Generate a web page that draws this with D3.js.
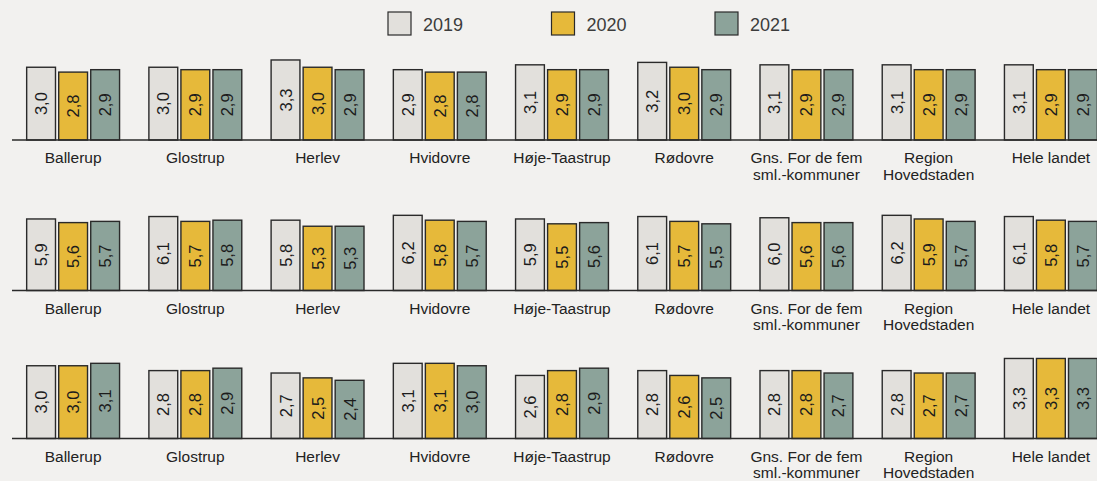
<!DOCTYPE html>
<html>
<head>
<meta charset="utf-8">
<script src="https://cdn.jsdelivr.net/npm/d3@7"></script>
<style>
  body { margin: 0; background: #f2f1ef; }
  svg { display: block; font-family: "Liberation Sans", Arial, sans-serif; }
</style>
</head>
<body>
<script>
// categories and series
var years = ["2019", "2020", "2021"];
var kommuner = ["Ballerup", "Glostrup", "Herlev", "Hvidovre", "Høje-Taastrup", "Rødovre",
  "Gns. For de fem|sml.-kommuner", "Region|Hovedstaden", "Hele landet"];

// one array per panel, rows follow kommuner, columns follow years
var panel1 = [
  [3.0, 2.8, 2.9], [3.0, 2.9, 2.9], [3.3, 3.0, 2.9], [2.9, 2.8, 2.8], [3.1, 2.9, 2.9],
  [3.2, 3.0, 2.9], [3.1, 2.9, 2.9], [3.1, 2.9, 2.9], [3.1, 2.9, 2.9]
];
var panel2 = [
  [5.9, 5.6, 5.7], [6.1, 5.7, 5.8], [5.8, 5.3, 5.3], [6.2, 5.8, 5.7], [5.9, 5.5, 5.6],
  [6.1, 5.7, 5.5], [6.0, 5.6, 5.6], [6.2, 5.9, 5.7], [6.1, 5.8, 5.7]
];
var panel3 = [
  [3.0, 3.0, 3.1], [2.8, 2.8, 2.9], [2.7, 2.5, 2.4], [3.1, 3.1, 3.0], [2.6, 2.8, 2.9],
  [2.8, 2.6, 2.5], [2.8, 2.8, 2.7], [2.8, 2.7, 2.7], [3.3, 3.3, 3.3]
];
var panelMax = [4, 8, 4];

var colors = ["#e2e0dc", "#e6b93a", "#8ca39a"];

var width = 1097, height = 481;
var svg = d3.select("body").append("svg")
  .attr("width", width)
  .attr("height", height);

// legend
var legend = svg.append("g");
years.forEach(function(y, i) {
  var lx = 388 + i * 163.5;
  legend.append("rect")
    .attr("x", lx).attr("y", 12)
    .attr("width", 23).attr("height", 23)
    .attr("fill", colors[i])
    .attr("stroke", "#2a2a2a")
    .attr("stroke-width", 1.2);
  legend.append("text")
    .attr("x", lx + 35).attr("y", 31)
    .style("font-size", "18px")
    .style("fill", "#3c3c3c")
    .text(y);
});

// scales shared by panels
var x0 = d3.scaleBand()
  .domain(kommuner)
  .range([12, 1112])
  .paddingInner(0.24)
  .paddingOuter(0.12);

var x1 = d3.scaleBand()
  .domain(years)
  .range([0, x0.bandwidth()])
  .paddingInner(0.1);

var baselines = [140, 290.5, 438.5];

[panel1, panel2, panel3].forEach(function(data, p) {
  var base = baselines[p];
  var y = d3.scaleLinear()
    .domain([0, panelMax[p]])
    .range([base, base - 97]);

  var g = svg.append("g");

  var groups = g.selectAll(".grp")
    .data(data)
    .enter()
    .append("g")
    .attr("transform", function(d, i) { return "translate(" + x0(kommuner[i]) + ",0)"; });

  groups.selectAll("rect")
    .data(function(d) { return d; })
    .enter()
    .append("rect")
    .attr("x", function(d, j) { return x1(years[j]); })
    .attr("y", function(d) { return y(d); })
    .attr("width", x1.bandwidth())
    .attr("height", function(d) { return base - y(d); })
    .attr("fill", function(d, j) { return colors[j]; })
    .attr("stroke", "#2a2a2a")
    .attr("stroke-width", 1.4);

  groups.selectAll("text")
    .data(function(d) { return d; })
    .enter()
    .append("text")
    .attr("transform", function(d, j) {
      var cx = x1(years[j]) + x1.bandwidth() / 2;
      var cy = (y(d) + base) / 2;
      return "translate(" + cx + "," + cy + ") rotate(-90)";
    })
    .attr("text-anchor", "middle")
    .attr("dominant-baseline", "central")
    .style("font-size", "16.5px")
    .style("fill", "#1c1c1c")
    .text(function(d) { return d.toFixed(1).replace(".", ","); });

  // axis line
  g.append("line")
    .attr("x1", 12).attr("x2", width)
    .attr("y1", base).attr("y2", base)
    .attr("stroke", "#2a2a2a")
    .attr("stroke-width", 1.4);

  // category labels
  kommuner.forEach(function(k) {
    var t = g.append("text")
      .attr("x", x0(k) + x0.bandwidth() / 2)
      .attr("y", base + 23)
      .attr("text-anchor", "middle")
      .style("font-size", "15.5px")
      .style("fill", "#222");
    k.split("|").forEach(function(line, li) {
      t.append("tspan")
        .attr("x", x0(k) + x0.bandwidth() / 2)
        .attr("dy", li === 0 ? 0 : 16.5)
        .text(line);
    });
  });
});
</script>
</body>
</html>
